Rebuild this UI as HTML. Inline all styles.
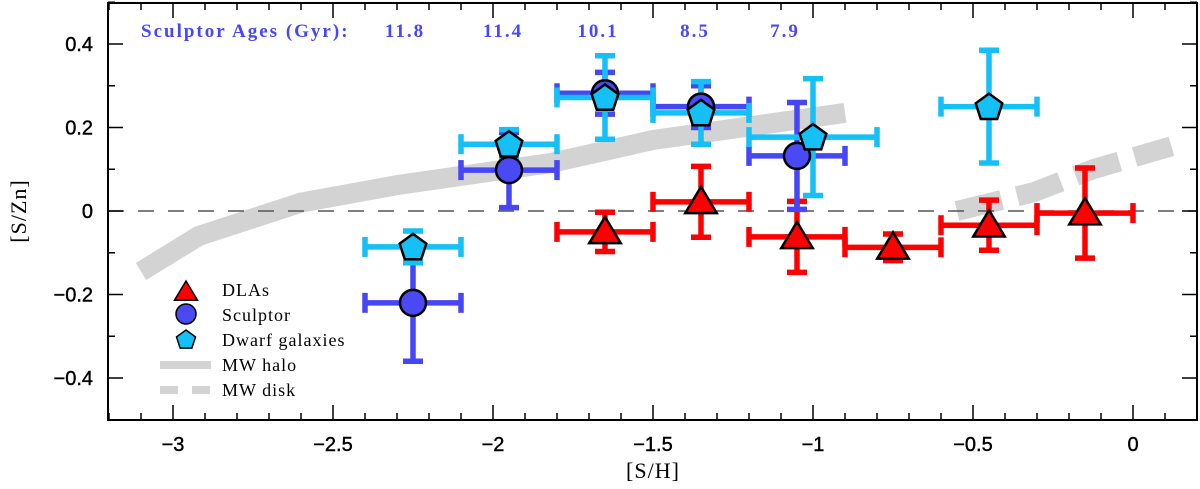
<!DOCTYPE html>
<html><head><meta charset="utf-8"><style>
html,body{margin:0;padding:0;background:#fff;}
svg{display:block;}
</style></head><body>
<svg id="chart" width="1200" height="489" xmlns="http://www.w3.org/2000/svg">
<g id="bands"></g>
<g id="marks"></g>
<g id="axes"></g>
</svg>
<script>
const xTicks = [-3, -2.5, -2, -1.5, -1, -0.5, 0];
const xTickLabels = ["\u22123", "\u22122.5", "\u22122", "\u22121.5", "\u22121", "\u22120.5", "0"];
const yTicks = [-0.4, -0.2, 0, 0.2, 0.4];
const yTickLabels = ["\u22120.4", "\u22120.2", "0", "0.2", "0.4"];

const dlaX = [-1.65, -1.35, -1.05, -0.75, -0.45, -0.15];
const dlaY = [-0.05, 0.022, -0.062, -0.087, -0.034, -0.005];
const dlaYErr = [0.047, 0.085, 0.085, 0.032, 0.06, 0.108];
const dlaXErr = [0.15, 0.15, 0.15, 0.15, 0.15, 0.15];

const sclX = [-2.25, -1.95, -1.65, -1.35, -1.05];
const sclY = [-0.22, 0.098, 0.282, 0.25, 0.132];
const sclYErr = [0.14, 0.09, 0.05, 0.05, 0.128];
const sclXErr = [0.15, 0.15, 0.15, 0.15, 0.15];

const dwfX = [-2.25, -1.95, -1.65, -1.35, -1.0, -0.45];
const dwfY = [-0.086, 0.16, 0.272, 0.235, 0.177, 0.25];
const dwfYErr = [0.038, 0.035, 0.1, 0.075, 0.14, 0.135];
const dwfXErr = [0.15, 0.15, 0.15, 0.15, 0.2, 0.15];

const haloX = [-3.1, -2.92, -2.6, -2.3, -1.82, -1.5, -0.9];
const haloY = [-0.145, -0.06, 0.02, 0.062, 0.115, 0.17, 0.235];
const diskX = [-0.55, -0.31, -0.125, 0.12];
const diskY = [0.0, 0.045, 0.1, 0.155];

const ages = ["11.8", "11.4", "10.1", "8.5", "7.9"];
const ageX = [405, 503, 598, 695, 785];

const X0 = 108, X1 = 1197, Y0 = 3, Y1 = 420;
function sx(v){ return 1133 + 320 * v; }
function sy(v){ return 211 - 417.5 * v; }
const NS = "http://www.w3.org/2000/svg";
function mk(parent, tag, attrs){
  const e = document.createElementNS(NS, tag);
  for (const k in attrs) e.setAttribute(k, attrs[k]);
  parent.appendChild(e);
  return e;
}
const bands = document.getElementById('bands');
const marks = document.getElementById('marks');
const axes = document.getElementById('axes');

let p = mk(bands, 'polyline', {points: haloX.map((x,i)=>sx(x)+','+sy(haloY[i])).join(' '), fill:'none', stroke:'#d3d3d3', 'stroke-width':20});


p = mk(bands, 'polyline', {points: diskX.map((x,i)=>sx(x)+','+sy(diskY[i])).join(' '), fill:'none', stroke:'#d3d3d3', 'stroke-width':20, 'stroke-dasharray':'46 16'});


p = mk(bands, 'line', {x1:X0, x2:X1, y1:sy(0), y2:sy(0), stroke:'#555', 'stroke-width':1.5, 'stroke-dasharray':'16 14'});



function errBars(xs, ys, xe, ye, color, name){
  xs.forEach((x,i)=>{
    const g = mk(marks, 'g', {stroke:color, 'stroke-width':5.5});
    
    
    const cx = sx(x), cy = sy(ys[i]);
    const xl = sx(x - xe[i]), xr = sx(x + xe[i]);
    const yt = sy(ys[i] + ye[i]), yb = sy(ys[i] - ye[i]);
    mk(g, 'line', {x1:xl, x2:xr, y1:cy, y2:cy});
    mk(g, 'line', {x1:cx, x2:cx, y1:yt, y2:yb});
    mk(g, 'line', {x1:xl, x2:xl, y1:cy-10, y2:cy+10});
    mk(g, 'line', {x1:xr, x2:xr, y1:cy-10, y2:cy+10});
    mk(g, 'line', {x1:cx-10, x2:cx+10, y1:yt, y2:yt});
    mk(g, 'line', {x1:cx-10, x2:cx+10, y1:yb, y2:yb});
  });
}
function tri(cx, cy, r){ return [[cx,cy-r],[cx+r*1.05,cy+r*0.75],[cx-r*1.05,cy+r*0.75]].map(a=>a.join(',')).join(' '); }
function pent(cx, cy, r){ let s=[]; for(let k=0;k<5;k++){const a=-Math.PI/2+k*2*Math.PI/5; s.push((cx+r*Math.cos(a))+','+(cy+r*Math.sin(a)));} return s.join(' '); }

errBars(dlaX, dlaY, dlaXErr, dlaYErr, '#ff0000', 'dla');
errBars(sclX, sclY, sclXErr, sclYErr, '#4646f5', 'sculptor');
errBars(dwfX, dwfY, dwfXErr, dwfYErr, '#14c0f5', 'dwarf');

dlaX.forEach((x,i)=>{
  const m = mk(marks, 'polygon', {points: tri(sx(x), sy(dlaY[i]), 15), fill:'#ff0000', stroke:'#000', 'stroke-width':2.5});
  
  
});
sclX.forEach((x,i)=>{
  const m = mk(marks, 'circle', {cx:sx(x), cy:sy(sclY[i]), r:13, fill:'#4a4af5', stroke:'#000', 'stroke-width':2.5});
  
  
});
dwfX.forEach((x,i)=>{
  const m = mk(marks, 'polygon', {points: pent(sx(x), sy(dwfY[i])+1, 14), fill:'#14c0f5', stroke:'#000', 'stroke-width':2.5});
  
  
});

let f = mk(axes, 'rect', {x:X0, y:Y0, width:X1-X0, height:Y1-Y0, fill:'none', stroke:'#000', 'stroke-width':2});


for (let k=-32;k<=2;k++){
  const v=k/10, x=sx(v), major = (k%5===0);
  const L = major?15:7;
  mk(axes,'line',{x1:x,x2:x,y1:Y1,y2:Y1-L,stroke:'#000','stroke-width':1.5});
  mk(axes,'line',{x1:x,x2:x,y1:Y0,y2:Y0+L,stroke:'#000','stroke-width':1.5});
}
for (let k=-5;k<=5;k++){
  const v=k/10, y=sy(v), major=(k%2===0);
  const L = major?15:7;
  mk(axes,'line',{x1:X0,x2:X0+L,y1:y,y2:y,stroke:'#000','stroke-width':1.5});
  mk(axes,'line',{x1:X1,x2:X1-L,y1:y,y2:y,stroke:'#000','stroke-width':1.5});
}
xTicks.forEach((v,i)=>{
  const t = mk(axes,'text',{x:sx(v), y:451, 'text-anchor':'middle', 'font-family':'Liberation Sans, sans-serif', 'font-size':20, stroke:'#000', 'stroke-width':0.4});
  t.textContent = xTickLabels[i];
  
  
});
yTicks.forEach((v,i)=>{
  const t = mk(axes,'text',{x:93, y:sy(v)+7, 'text-anchor':'end', 'font-family':'Liberation Sans, sans-serif', 'font-size':20, stroke:'#000', 'stroke-width':0.4});
  t.textContent = yTickLabels[i];
  
  
});
let t = mk(axes,'text',{x:sx(-1.5), y:478, 'text-anchor':'middle', 'font-family':'Liberation Serif, serif', 'font-size':22, 'letter-spacing':1});
t.textContent = '[S/H]';


t = mk(axes,'text',{x:0, y:0, transform:'translate(26,211) rotate(-90)', 'text-anchor':'middle', 'font-family':'Liberation Serif, serif', 'font-size':22, 'letter-spacing':1});
t.textContent = '[S/Zn]';



t = mk(axes,'text',{x:141, y:37, 'font-family':'Liberation Serif, serif', 'font-size':19, 'font-weight':'bold', 'letter-spacing':2, fill:'#4646ff', 'xml:space':'preserve'});
t.textContent = 'Sculptor Ages (Gyr):';


ages.forEach((a,i)=>{
  const e = mk(axes,'text',{x:ageX[i], y:37, 'text-anchor':'middle', 'font-family':'Liberation Serif, serif', 'font-size':19, 'font-weight':'bold', 'letter-spacing':2, fill:'#4646ff'});
  e.textContent = a;
  
  
});

const lg = mk(axes,'g',{});


mk(lg,'polygon',{points:tri(186,292,11),fill:'#ff0000',stroke:'#000','stroke-width':1.5});
mk(lg,'circle',{cx:186,cy:314,r:10,fill:'#4a4af5',stroke:'#000','stroke-width':1.5});
mk(lg,'polygon',{points:pent(186,340,10),fill:'#14c0f5',stroke:'#000','stroke-width':1.5});
mk(lg,'line',{x1:160,x2:211,y1:365,y2:365,stroke:'#d3d3d3','stroke-width':8});
mk(lg,'line',{x1:160,x2:211,y1:390,y2:390,stroke:'#d3d3d3','stroke-width':8,'stroke-dasharray':'18 14'});
["DLAs","Sculptor","Dwarf galaxies","MW halo","MW disk"].forEach((s,i)=>{
  const e = mk(lg,'text',{x:222, y:296+i*25, 'font-family':'Liberation Serif, serif', 'font-size':18, 'letter-spacing':1, 'xml:space':'preserve'});
  e.textContent = s;
  
  
});
</script>
</body></html>
